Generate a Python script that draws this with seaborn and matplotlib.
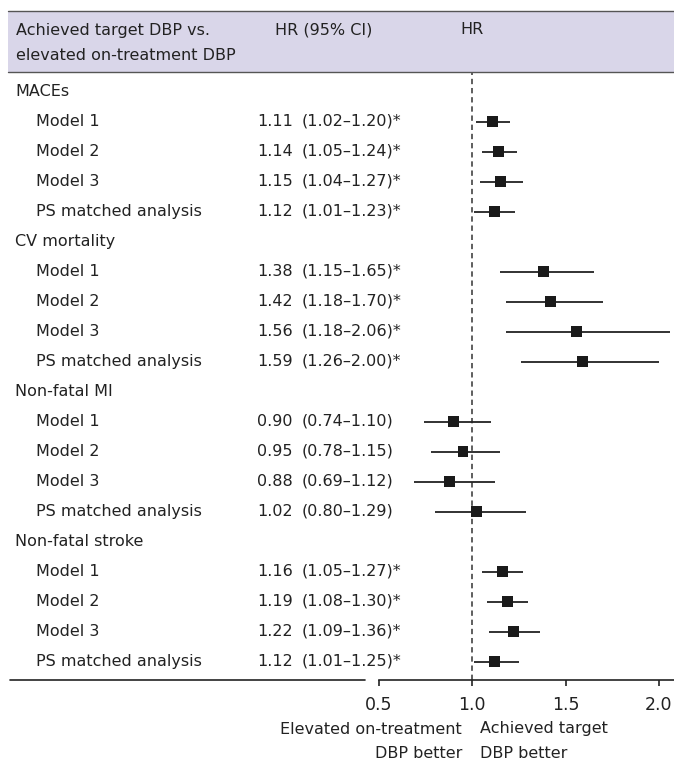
import matplotlib
matplotlib.use("Agg")
import matplotlib.pyplot as plt
import seaborn as sns
import pandas as pd
from matplotlib.transforms import blended_transform_factory
from matplotlib.patches import Rectangle
from matplotlib.lines import Line2D

# ---- data ----
groups = ["MACEs", "CV mortality", "Non-fatal MI", "Non-fatal stroke"]
models = ["Model 1", "Model 2", "Model 3", "PS matched analysis"]
hr = [1.11, 1.14, 1.15, 1.12,
      1.38, 1.42, 1.56, 1.59,
      0.90, 0.95, 0.88, 1.02,
      1.16, 1.19, 1.22, 1.12]
lo = [1.02, 1.05, 1.04, 1.01,
      1.15, 1.18, 1.18, 1.26,
      0.74, 0.78, 0.69, 0.80,
      1.05, 1.08, 1.09, 1.01]
hi = [1.20, 1.24, 1.27, 1.23,
      1.65, 1.70, 2.06, 2.00,
      1.10, 1.15, 1.12, 1.29,
      1.27, 1.30, 1.36, 1.25]
sig = [True] * 8 + [False] * 4 + [True] * 4
xticks = [0.5, 1.0, 1.5, 2.0]
xticklabels = ["0.5", "1.0", "1.5", "2.0"]
header_left = "Achieved target DBP vs.\nelevated on-treatment DBP"
header_mid = "HR (95% CI)"
header_right = "HR"
left_note = "Elevated on-treatment\nDBP better"
right_note = "Achieved target\nDBP better"

# ---- build rows ----
rows = []
ri = 0
for g in range(len(groups)):
    rows.append(dict(row=ri, label=groups[g], kind="group"))
    ri += 1
    for m in range(len(models)):
        k = g * len(models) + m
        rows.append(dict(row=ri, label=models[m], kind="model",
                         hr=hr[k], lo=lo[k], hi=hi[k], sig=sig[k]))
        ri += 1
df = pd.DataFrame(rows)
dm = df[df.kind == "model"]

sns.set_theme(style="white")
plt.rcParams["font.family"] = ["DejaVu Sans"]

W, H = 674, 761
fig = plt.figure(figsize=(W / 100, H / 100), dpi=100)

def fx(px):
    return px / W

def fy(py):
    return 1 - py / H

ax_left, ax_right = 379, 674
ax_top, ax_bot = 72, 680
ax = fig.add_axes([fx(ax_left), fy(ax_bot), fx(ax_right - ax_left), (ax_bot - ax_top) / H])
ax.set_xlim(0.5, 0.5 + (ax_right - ax_left) / (280 / 1.5))
row0 = 91.5 - ax_top
sp = 30.0
ax.set_ylim((ax_bot - ax_top - row0) / sp, -row0 / sp)

ax.axvline(1.0, color="#333333", ls=(0, (3.5, 2.5)), lw=1.1, zorder=1)
ax.hlines(dm["row"], dm["lo"], dm["hi"], color="#222222", lw=1.3, zorder=2)
sns.scatterplot(data=dm, x="hr", y="row", marker="s", s=62, color="#1a1a1a",
                edgecolor="none", ax=ax, zorder=3, legend=False)

for s in ["top", "right", "left"]:
    ax.spines[s].set_visible(False)
ax.spines["bottom"].set_color("#222222")
ax.spines["bottom"].set_linewidth(1.2)
ax.set_xticks(xticks)
ax.set_xticklabels(xticklabels, fontsize=12.5, color="#222222")
ax.tick_params(axis="x", direction="out", length=4.3, width=1.2, color="#222222", pad=7, bottom=True)
ax.set_yticks([])
ax.set_xlabel("")
ax.set_ylabel("")

tr = blended_transform_factory(fig.transFigure, ax.transData)
fs = 11.5
txtc = "#222222"
for _, r in df.iterrows():
    if r.kind == "group":
        ax.text(fx(15), r.row, r.label, transform=tr, ha="left", va="center",
                fontsize=fs, color=txtc, clip_on=False)
    else:
        ax.text(fx(36), r.row, r.label, transform=tr, ha="left", va="center",
                fontsize=fs, color=txtc, clip_on=False)
        ax.text(fx(293), r.row, f"{r.hr:.2f}", transform=tr, ha="right", va="center",
                fontsize=fs, color=txtc, clip_on=False)
        ci = f"({r.lo:.2f}\u2013{r.hi:.2f})" + ("*" if r.sig else "")
        ax.text(fx(302), r.row, ci, transform=tr, ha="left", va="center",
                fontsize=fs, color=txtc, clip_on=False)

# header band
fig.patches.append(Rectangle((fx(8), fy(72)), fx(W - 8), (72 - 11) / H,
                             transform=fig.transFigure, facecolor="#d9d6e9",
                             edgecolor="none", zorder=0))
for yy in (11, 72):
    fig.add_artist(Line2D([fx(8), 1], [fy(yy), fy(yy)], color="#555555", lw=1.0))
fig.text(fx(16), fy(30), header_left.split("\n")[0], ha="left", va="center",
         fontsize=fs, color=txtc)
fig.text(fx(16), fy(55), header_left.split("\n")[1], ha="left", va="center",
         fontsize=fs, color=txtc)
fig.text(fx(275), fy(30), header_mid, ha="left", va="center", fontsize=fs, color=txtc)
fig.text(fx(472), fy(30), header_right, ha="center", va="center", fontsize=fs, color=txtc)

# bottom table line
fig.add_artist(Line2D([fx(10), fx(365)], [fy(680), fy(680)], color="#222222", lw=1.2))

# direction notes
for i, (a, b) in enumerate(zip(left_note.split("\n"), right_note.split("\n"))):
    yy = 729 + 24 * i
    fig.text(fx(462), fy(yy), a, ha="right", va="center", fontsize=fs, color=txtc)
    fig.text(fx(480), fy(yy), b, ha="left", va="center", fontsize=fs, color=txtc)

fig.savefig("out.png", dpi=100)
